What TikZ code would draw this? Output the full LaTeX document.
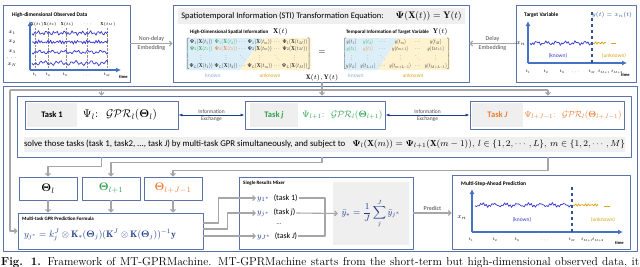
\RequirePackage{fix-cm}
\documentclass[tikz,border=0pt]{standalone}
\usepackage{amsmath, amssymb, bm, graphicx}
\usepackage{fontspec}
\setsansfont{Carlito}
\usetikzlibrary{positioning, arrows.meta}

\definecolor{frameblue}{HTML}{5B73A8}
\definecolor{linegray}{HTML}{A6A6A6}
\definecolor{bandgray}{HTML}{EFEFEF}
\definecolor{navy}{HTML}{1F3C88}
\definecolor{taskgreen}{HTML}{2EA04E}
\definecolor{taskorange}{HTML}{ED7D31}
\definecolor{knownblue}{HTML}{8EA9DB}
\definecolor{unknowngold}{HTML}{D9A514}
\definecolor{curveblue}{HTML}{3535D0}
\definecolor{axisblue}{HTML}{4472C4}
\definecolor{cutblue}{HTML}{2F5597}
\definecolor{lightblue}{HTML}{DCEFF9}
\definecolor{lightyellow}{HTML}{FFF3CF}
\definecolor{formulablue}{HTML}{1F3A8A}

\newcommand{\psx}[2]{\bm{\Psi}_{#1}(\mathbf{X}(t_{#2}))}
\newcommand{\yt}[1]{y(t_{#1})}

\begin{document}
\begin{tikzpicture}[x=1pt, y=-1pt, >=Stealth, line join=round,
    panel/.style={draw=frameblue, line width=0.9pt, fill=white, inner sep=0pt},
    band/.style={fill=bandgray, inner sep=0pt},
    gline/.style={draw=linegray, line width=1.1pt},
    garrow/.style={gline, -{Straight Barb[length=2.5pt, width=5pt]}},
    xarrow/.style={draw=navy, line width=0.9pt, {Latex[length=4pt]}-{Latex[length=4pt]}},
    axis/.style={draw=axisblue, line width=1.3pt, -{Latex[length=5pt, width=5pt]}},
    curve/.style={draw=curveblue, line width=0.7pt},
    ucurve/.style={draw=unknowngold, line width=0.7pt},
    cut/.style={draw=cutblue, dashed, line width=1.1pt},
    ptitle/.style={font=\sffamily\bfseries\fontsize{5.5}{6}\selectfont, inner sep=0pt, anchor=west},
    tmark/.style={font=\sffamily\bfseries\fontsize{4.5}{5}\selectfont, inner sep=0pt, anchor=west},
    tick/.style={font=\fontsize{4.2}{5}\selectfont, inner sep=0pt},
    lbl/.style={font=\sffamily\fontsize{6}{7}\selectfont, text=black!70, inner sep=1.5pt},
    kn/.style={font=\sffamily\fontsize{5.5}{6}\selectfont, inner sep=0pt},
    tagbox/.style={band, minimum width=50pt, minimum height=24pt, font=\sffamily\bfseries\fontsize{8.5}{10}\selectfont},
    thbox/.style={panel, minimum width=58pt, minimum height=23pt, font=\fontsize{11}{12}\selectfont},
    item/.style={anchor=west, inner sep=1pt, font=\sffamily\fontsize{8}{9}\selectfont}
  ]
  \useasboundingbox (0,0) rectangle (640,266);
  \clip (0,0) rectangle (640,266);

  % marcos
  \node[panel, minimum width=127pt, minimum height=77pt] (obs) at (66.5,43.5) {};
  \node[panel, minimum width=296pt, minimum height=77pt] (sti) at (321,43.5) {};
  \node[panel, minimum width=120pt, minimum height=77pt] (tgt) at (576,43.5) {};
  \node[panel, minimum width=634pt, minimum height=165pt] (low) at (320,169) {};
  \node[panel, minimum width=614pt, minimum height=61pt] (tframe) at (324,126.5) {};

  % datos observados
  \node[ptitle] (obstit) at (12,15) {High-dimensional Observed Data};
  \foreach \tx in {35,48,66,87,107}
    \draw[densely dotted, black!45, line width=0.4pt] (\tx,28) -- (\tx,68);
  \draw[axis] (30,70) -- (30,21);
  \draw[axis] (30,70) -- (121,70);
  \draw[curve] plot[domain=0:76, samples=58] ({32+\x}, {33+1.5*sin(97*\x)+1*sin(41*\x+30)});
  \draw[curve] plot[domain=0:76, samples=58] ({32+\x}, {42+1.6*sin(150*\x)+0.6*sin(37*\x)});
  \draw[curve] plot[domain=0:76, samples=58] ({32+\x}, {52+1.2*sin(83*\x)+1*sin(29*\x+60)});
  \draw[curve] plot[domain=0:76, samples=58] ({32+\x}, {63+1.5*sin(71*\x+10)+1.2*sin(23*\x)});
  \foreach \ty/\tl in {33/x_1, 42/x_2, 52/x_3, 58/\cdots, 65/x_N}
    \node[tick, font=\fontsize{5.5}{6}\selectfont] (orow\ty) at (12,\ty) {$\tl$};
  \foreach \tx/\tl in {37/{\mathbf{X}(t_1)}, 50/{\mathbf{X}(t_2)}, 67/{\mathbf{X}(t_3)}, 88/\cdots, 108/{\mathbf{X}(t_M)}}
    \node[tick, font=\fontsize{4.3}{5}\selectfont] (otop\tx) at (\tx,24) {$\tl$};
  \foreach \tx/\tl in {35/t_1, 48/t_2, 65/t_3, 87/\cdots, 107/t_M}
    \node[tick] (obot\tx) at (\tx,75) {$\tl$};
  \node[tmark] (obstime) at (119,77) {time};

  % ecuacion STI
  \node[band, minimum width=287pt, minimum height=16pt] (stitle) at (321.5,16)
    {{\sffamily\fontsize{8.5}{10}\selectfont Spatiotemporal Information (STI) Transformation Equation:}\hspace{12pt}{\fontsize{9.5}{10}\selectfont$\bm{\Psi}(\mathbf{X}(t)) = \mathbf{Y}(t)$}};
  \node[ptitle, font=\sffamily\bfseries\fontsize{5}{6}\selectfont] (xtit) at (190,32)
    {High-Dimensional Spatial Information\hspace{5pt}{\fontsize{7}{8}\selectfont$\mathbf{X}(t)$}};
  \node[ptitle, font=\sffamily\bfseries\fontsize{5}{6}\selectfont] (ytit) at (346,32)
    {Temporal Information of Target Variable\hspace{4pt}{\fontsize{7}{8}\selectfont$\mathbf{Y}(t)$}};
  \fill[lightblue] (186,38) -- (263,38) -- (240,70) -- (186,70) -- cycle;
  \fill[lightyellow] (263,38) -- (311,38) -- (311,70) -- (240,70) -- cycle;
  \fill[lightblue] (344,38) -- (398,38) -- (378,70) -- (344,70) -- cycle;
  \fill[lightyellow] (398,38) -- (450,38) -- (450,70) -- (378,70) -- cycle;
  \node[inner sep=0pt, text=black!85] (xmat) at (248.5,54)
    {\resizebox*{125pt}{31pt}{$\left[\begin{array}{@{}c@{\;}c@{\;}c@{\;}c@{\;}c@{\;}c@{}}
      \psx{1}{1} & \textcolor{taskgreen}{\psx{1}{2}} & \cdots & \psx{1}{m} & \cdots & \psx{1}{M}\\
      \textcolor{taskgreen}{\psx{2}{1}} & \textcolor{taskorange}{\psx{2}{2}} & \cdots & \psx{2}{m} & \cdots & \psx{2}{M}\\
      \vdots & \vdots & \ddots & \vdots & \ddots & \vdots\\
      \psx{L}{1} & \psx{L}{2} & \cdots & \psx{L}{m} & \cdots & \psx{L}{M}
    \end{array}\right]$}};
  \node[inner sep=0pt, font=\fontsize{9}{10}\selectfont] (eq) at (322,53) {$=$};
  \node[inner sep=0pt, text=black!85] (ymat) at (396.5,54)
    {\resizebox*{107pt}{31pt}{$\left[\begin{array}{@{}c@{\hspace{8pt}}c@{\hspace{8pt}}c@{\hspace{8pt}}c@{\hspace{8pt}}c@{\hspace{8pt}}c@{}}
      \yt{1} & \textcolor{taskgreen}{\yt{2}} & \cdots & \yt{m} & \cdots & \yt{M}\\
      \textcolor{taskgreen}{\yt{2}} & \textcolor{taskorange}{\yt{3}} & \cdots & \yt{m+1} & \cdots & \yt{M+1}\\
      \vdots & \vdots & \ddots & \vdots & \ddots & \vdots\\
      \yt{L} & \yt{L+1} & \cdots & \yt{m+L-1} & \cdots & \yt{M+L-1}
    \end{array}\right]$}};
  \node[kn, text=knownblue] (kx) at (213,76) {known};
  \node[kn, text=unknowngold] (ux) at (270,76) {unknown};
  \node[kn, text=knownblue] (ky) at (356,76) {known};
  \node[kn, text=unknowngold] (uy) at (413,76) {unknown};
  \node[inner sep=0pt, font=\fontsize{6.5}{7}\selectfont] (xy) at (322,77.5) {$\mathbf{X}(t), \mathbf{Y}(t)$};

  % variable objetivo
  \node[ptitle] (tgttit) at (524,15) {Target Variable};
  \draw[axis] (528,63) -- (528,21);
  \draw[axis] (528,63) -- (627,63);
  \draw[curve] plot[domain=0:62, samples=48] ({530+\x}, {43+1.3*sin(110*\x)+1.2*sin(37*\x+20)});
  \draw[ucurve] plot[domain=0:13, samples=11] ({593+\x}, {43+1.3*sin(110*\x)});
  \draw[ucurve] (611,43) -- (616,43);
  \draw[cut] (592,12) -- (592,63);
  \node[inner sep=0pt, font=\fontsize{6}{7}\selectfont, text=cutblue] (yeq) at (612,15) {$y(t)=x_n(t)$};
  \node[tick, font=\fontsize{6}{7}\selectfont] (tgtxn) at (521,44) {$x_n$};
  \node[kn, text=curveblue] (tk) at (558,56) {(known)};
  \node[kn, text=unknowngold] (tu) at (614,56) {(unknown)};
  \foreach \tx/\tl in {528/t_1, 546/t_2, 562/t_3, 576/\cdots, 592/t_M, 604/t_{M+1}, 617/t_{M+2}}
    \node[tick] (tt\tx) at (\tx,72) {$\tl$};
  \node[tmark] (tgttime) at (621,75) {time};

  % incrustacion
  \draw[garrow] (obs.east) -- node[lbl, above] (nd) {Non-delay} node[lbl, below] (ne) {Embedding} (sti.west);
  \draw[garrow] (tgt.west) -- node[lbl, above] (dd) {Delay} node[lbl, below] (de) {Embedding} (sti.east);

  % tareas
  \node[panel, minimum width=153pt, minimum height=28pt] (t1) at (101.5,115) {};
  \node[panel, minimum width=140pt, minimum height=28pt] (tj) at (315,115) {};
  \node[panel, minimum width=154pt, minimum height=28pt] (tJ) at (547,115) {};
  \node[tagbox] (tag1) at (52,115) {Task 1};
  \node[tagbox, minimum width=48pt, text=taskgreen] (tagj) at (274,115) {Task \textit{j}};
  \node[tagbox, minimum width=51pt, text=taskorange] (tagJ) at (497.5,115) {Task \textit{J}};
  \node[inner sep=0pt] (f1) at (120,115)
    {\resizebox{74pt}{!}{$\Psi_l$:\; $\mathcal{GPR}_l(\bm{\Theta}_l)$}};
  \node[inner sep=0pt, text=taskgreen] (fj) at (342.5,115)
    {\resizebox{80pt}{!}{$\Psi_{l+1}$:\; $\mathcal{GPR}_l(\bm{\Theta}_{l+1})$}};
  \node[inner sep=0pt, text=taskorange] (fJ) at (573,115)
    {\resizebox{97pt}{!}{$\Psi_{l+J-1}$:\; $\mathcal{GPR}_l(\bm{\Theta}_{l+J-1})$}};
  \draw[xarrow] (t1.east) -- node[lbl, above, font=\sffamily\fontsize{5.5}{6}\selectfont] (ie1) {Information}
    node[lbl, below, font=\sffamily\fontsize{5.5}{6}\selectfont] (ex1) {Exchange} (tj.west);
  \draw[xarrow] (tj.east) -- node[lbl, above, font=\sffamily\fontsize{5.5}{6}\selectfont] (ie2) {Information}
    node[lbl, below, font=\sffamily\fontsize{5.5}{6}\selectfont] (ex2) {Exchange} (tJ.west);
  \node[band, minimum width=599pt, minimum height=15pt, font=\sffamily\fontsize{8.8}{10}\selectfont] (solve) at (324.5,144.5)
    {solve those tasks (task 1, task2, ..., task \textit{J}) by multi-task GPR simultaneously, and subject to\;\;
     $\bm{\Psi}_l(\mathbf{X}(m)) = \bm{\Psi}_{l+1}(\mathbf{X}(m-1)),\ l\in\{1,2,\cdots,L\},\ m\in\{1,2,\cdots,M\}$};

  % bus de entrada
  \coordinate (bus) at (322,90);
  \coordinate (busL) at (10,90);
  \coordinate (busR) at (548,90);
  \draw[gline] (sti.south -| bus) -- (bus);
  \draw[gline] (busL) -- (busR);
  \draw[garrow] (t1 |- bus) -- (t1 |- tframe.north);
  \draw[garrow] (bus) -- (bus |- tframe.north);
  \draw[garrow] (busR) -- (busR |- tframe.north);

  % parametros
  \node[thbox] (th1) at (48,188.5) {$\bm{\Theta}_l$};
  \node[thbox, text=taskgreen] (th2) at (111,188.5) {$\bm{\Theta}_{l+1}$};
  \node[thbox, text=taskorange] (th3) at (173,188.5) {$\bm{\Theta}_{l+J-1}$};
  \draw[garrow] (t1 |- tframe.south) -- ++(0,9) -| (th1.north);
  \draw[garrow] (bus |- tframe.south) -- ++(0,5) -| (th2.north);
  \draw[garrow] (busR |- tframe.south) -- ++(0,13) -| (th3.north);

  % formula de prediccion
  \node[panel, minimum width=185pt, minimum height=36pt] (fbox) at (110.5,231) {};
  \node[ptitle, font=\sffamily\bfseries\fontsize{5}{6}\selectfont] (ftit) at (22,219) {Multi-task GPR Prediction Formula};
  \node[inner sep=0pt, text=formulablue] (pform) at (100,235)
    {\resizebox{152pt}{!}{$y_{j^*} = k_j^{J}\otimes\mathbf{K}_*(\bm{\Theta}_j)(\mathbf{K}^{J}\otimes\mathbf{K}(\bm{\Theta}_j))^{-1}\mathbf{y}$}};
  \draw[garrow] (th1.south) -- (th1.south |- fbox.north);
  \draw[garrow] (th2.south) -- (th2.south |- fbox.north);
  \draw[garrow] (th3.south) -- (th3.south |- fbox.north);
  \draw[garrow] (busL) |- (fbox.west);

  % mezclador
  \node[panel, minimum width=174pt, minimum height=72pt] (mix) at (326,213) {};
  \node[ptitle, font=\sffamily\bfseries\fontsize{5}{6}\selectfont] (mtit) at (243,183) {Single Results Mixer};
  \node[band, minimum width=76pt, minimum height=63pt, text=formulablue, font=\fontsize{9}{12}\selectfont] (avg) at (371,213.5)
    {$\displaystyle\bar{y}_* = \frac{1}{J}\sum_{j}^{J}\bar{y}_{j^*}$};
  \node[item] (m1) at (256,198) {\textcolor{formulablue}{$y_{1^*}$}\; (task 1)};
  \node[item] (mj) at (256,213) {\textcolor{formulablue}{$y_{j^*}$}\; (task \textit{j})};
  \node[item] (mJ) at (256,236) {\textcolor{formulablue}{$y_{J^*}$}\; (task \textit{J})};
  \node[inner sep=0pt, font=\fontsize{8}{9}\selectfont] (mdots) at (279,224) {\dots};
  \coordinate (mrg) at (325,213);
  \draw[garrow] ([yshift=8pt]fbox.east) -- ++(15,0) |- (m1.west);
  \draw[garrow] ([yshift=2pt]fbox.east) -- ++(24,0) |- (mj.west);
  \draw[garrow] (fbox.east |- mJ.west) -- (mJ.west);
  \draw[gline] (m1.east) -| (mrg) |- (mJ.east);
  \draw[garrow] (mj.east) -- ([xshift=5pt]avg.west);

  % prediccion multipaso
  \node[panel, minimum width=178pt, minimum height=74pt] (pred) at (541,212) {};
  \draw[garrow] (mix.east) -- node[lbl, above, font=\sffamily\bfseries\fontsize{6}{7}\selectfont, text=black!55] (pl) {Predict} (mix.east -| pred.west);
  \node[ptitle] (ptit) at (461,184) {Multi-Step-Ahead Prediction};
  \draw[axis] (472,232) -- (472,189);
  \draw[axis] (472,232) -- (623,232);
  \draw[curve] plot[domain=0:97, samples=70] ({475+\x}, {205+1.2*sin(120*\x)+1.3*sin(31*\x+40)});
  \draw[ucurve] plot[domain=0:25, samples=19] ({573+\x}, {205+1.3*sin(110*\x)});
  \draw[ucurve] (604,206) -- (610,206);
  \draw[cut] (572,187) -- (572,232);
  \node[tick, font=\fontsize{6}{7}\selectfont] (pxn) at (462,218) {$x_n$};
  \node[kn, text=curveblue] (pk) at (522,220) {(known)};
  \node[kn, text=unknowngold] (pu) at (603,220) {(unknown)};
  \foreach \tx/\tl in {471/t_1, 495/t_2, 517/t_3, 545/\cdots, 572/t_M, 587/t_{M+1}, 598/t_{M+2}}
    \node[tick] (pt\tx) at (\tx,240) {$\tl$};
  \node[tmark] (ptime) at (615,243) {time};

  % pie de figura
  \node[anchor=base west, inner sep=0pt, font=\fontsize{11.5}{13}\selectfont] (cap) at (1,265)
    {\makebox[638pt][s]{\textbf{Fig. 1.} Framework of MT-GPRMachine. MT-GPRMachine starts from the short-term but high-dimensional observed data, it}};
\end{tikzpicture}
\end{document}
